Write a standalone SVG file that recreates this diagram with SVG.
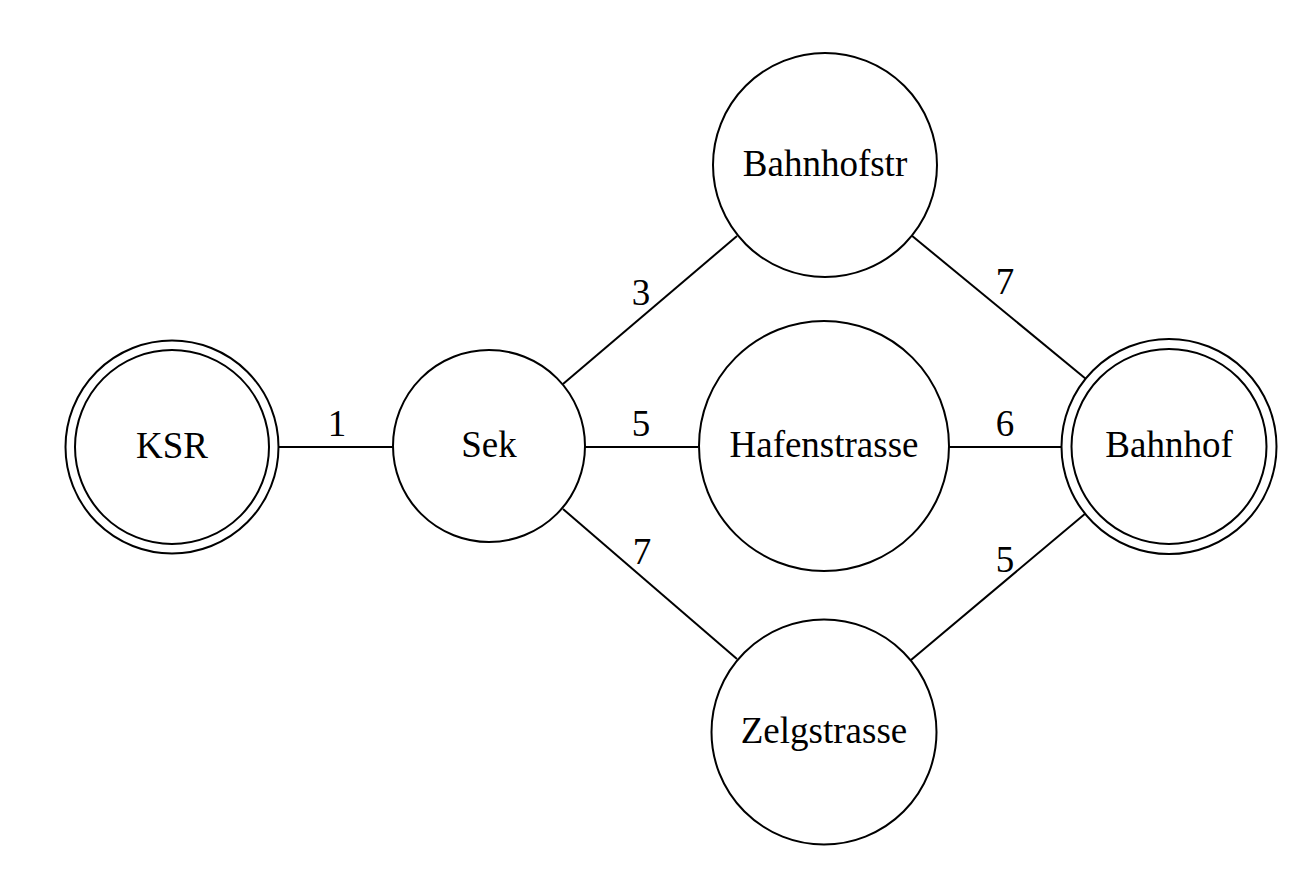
<svg xmlns="http://www.w3.org/2000/svg" width="1312" height="882" viewBox="0 0 1312 882">
<style>
  .n { fill: #fff; stroke: #000; stroke-width: 2; }
  .e { stroke: #000; stroke-width: 2; fill: none; }
  text { font-family: "Liberation Serif", "Times New Roman", serif; font-size: 37px; fill: #000; text-anchor: middle; }
</style>
<rect width="1312" height="882" fill="#fff"/>
<g id="edges">
  <line class="e" x1="279" y1="447" x2="393" y2="447"/>
  <text x="337" y="436">1</text>
  <line class="e" x1="563" y1="384" x2="737" y2="236"/>
  <text x="641" y="305">3</text>
  <line class="e" x1="585" y1="447" x2="698" y2="447"/>
  <text x="641" y="436">5</text>
  <line class="e" x1="563" y1="509" x2="737" y2="659"/>
  <text x="642" y="564">7</text>
  <line class="e" x1="911" y1="235" x2="1086" y2="379"/>
  <text x="1005" y="294">7</text>
  <line class="e" x1="949" y1="447" x2="1062" y2="447"/>
  <text x="1005" y="436">6</text>
  <line class="e" x1="911" y1="660" x2="1086" y2="513"/>
  <text x="1005" y="572">5</text>
</g>
<g id="KSR">
  <circle class="n" cx="172" cy="447" r="106.5"/>
  <circle class="n" cx="172" cy="447" r="97"/>
  <text x="172" y="458">KSR</text>
</g>
<g id="Sek">
  <circle class="n" cx="489" cy="446" r="96"/>
  <text x="489" y="457">Sek</text>
</g>
<g id="Bahnhofstr">
  <circle class="n" cx="825" cy="165" r="112"/>
  <text x="825" y="176">Bahnhofstr</text>
</g>
<g id="Hafenstrasse">
  <circle class="n" cx="824" cy="446" r="125"/>
  <text x="824" y="457">Hafenstrasse</text>
</g>
<g id="Bahnhof">
  <circle class="n" cx="1169" cy="446.5" r="107.5"/>
  <circle class="n" cx="1169" cy="446.5" r="97.5"/>
  <text x="1169" y="457">Bahnhof</text>
</g>
<g id="Zelgstrasse">
  <circle class="n" cx="824" cy="732" r="112.5"/>
  <text x="824" y="743">Zelgstrasse</text>
</g>
</svg>
